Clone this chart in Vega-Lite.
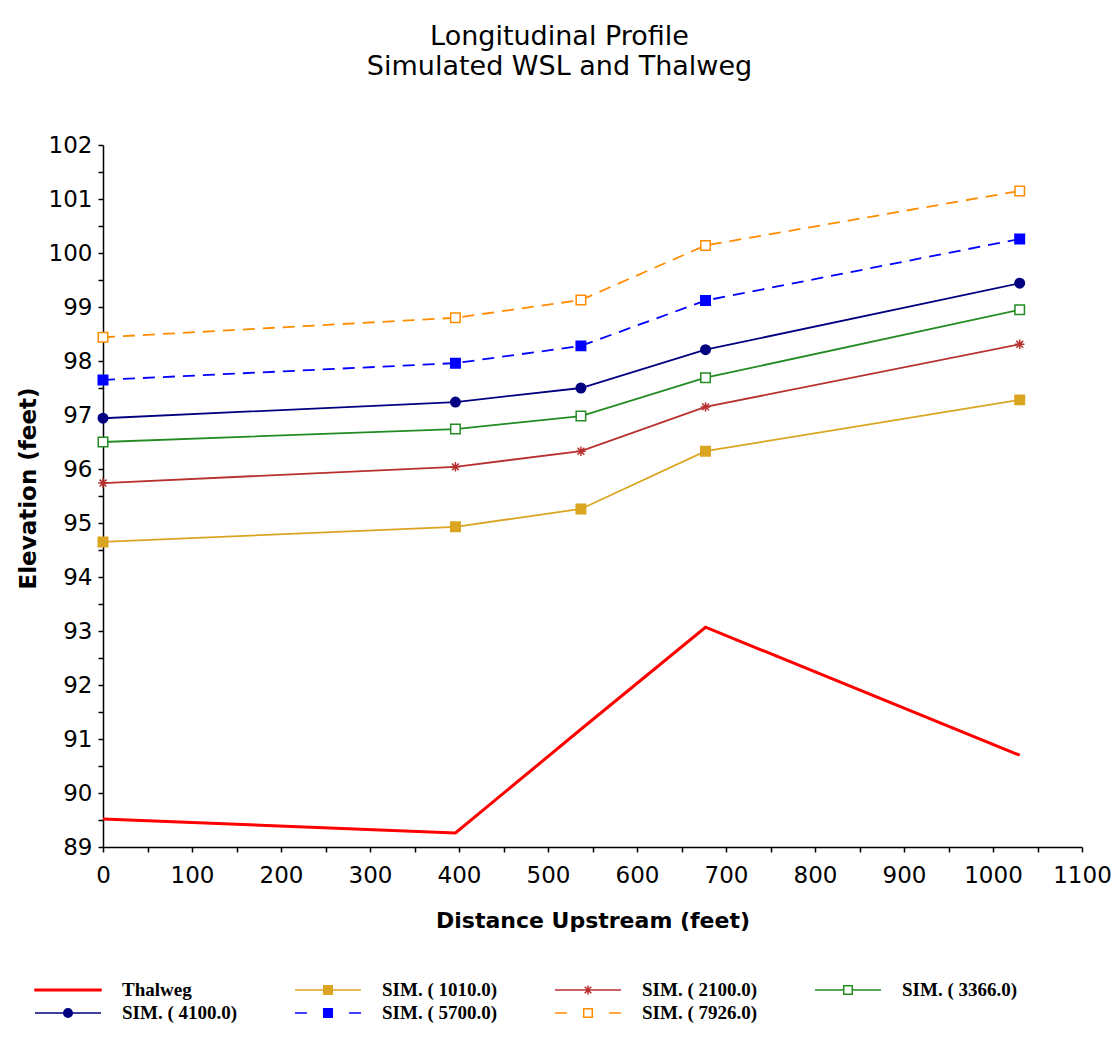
{
  "$schema": "https://vega.github.io/schema/vega-lite/v6.json",
  "autosize": "none",
  "width": 979,
  "height": 702,
  "padding": {"left": 103, "top": 145, "right": 31, "bottom": 208},
  "background": "white",
  "config": {"view": {"stroke": null}},
  "title": {
    "text": ["Longitudinal Profile", "Simulated WSL and Thalweg"],
    "font": "DejaVu Sans",
    "fontSize": 27,
    "fontWeight": "normal",
    "color": "black",
    "lineHeight": 30,
    "anchor": "middle",
    "offset": 53,
    "dx": -33
  },
  "data": {
    "values": [
      {"series": "Thalweg", "x": 0, "y": 89.52},
      {"series": "Thalweg", "x": 396, "y": 89.26},
      {"series": "Thalweg", "x": 537, "y": 91.18},
      {"series": "Thalweg", "x": 677, "y": 93.07},
      {"series": "Thalweg", "x": 1030, "y": 90.70},
      {"series": "SIM. ( 1010.0)", "x": 0, "y": 94.65},
      {"series": "SIM. ( 1010.0)", "x": 396, "y": 94.93},
      {"series": "SIM. ( 1010.0)", "x": 537, "y": 95.26},
      {"series": "SIM. ( 1010.0)", "x": 677, "y": 96.33},
      {"series": "SIM. ( 1010.0)", "x": 1030, "y": 97.28},
      {"series": "SIM. ( 2100.0)", "x": 0, "y": 95.74},
      {"series": "SIM. ( 2100.0)", "x": 396, "y": 96.04},
      {"series": "SIM. ( 2100.0)", "x": 537, "y": 96.33},
      {"series": "SIM. ( 2100.0)", "x": 677, "y": 97.15},
      {"series": "SIM. ( 2100.0)", "x": 1030, "y": 98.31},
      {"series": "SIM. ( 3366.0)", "x": 0, "y": 96.50},
      {"series": "SIM. ( 3366.0)", "x": 396, "y": 96.74},
      {"series": "SIM. ( 3366.0)", "x": 537, "y": 96.98},
      {"series": "SIM. ( 3366.0)", "x": 677, "y": 97.69},
      {"series": "SIM. ( 3366.0)", "x": 1030, "y": 98.95},
      {"series": "SIM. ( 4100.0)", "x": 0, "y": 96.94},
      {"series": "SIM. ( 4100.0)", "x": 396, "y": 97.24},
      {"series": "SIM. ( 4100.0)", "x": 537, "y": 97.50},
      {"series": "SIM. ( 4100.0)", "x": 677, "y": 98.21},
      {"series": "SIM. ( 4100.0)", "x": 1030, "y": 99.44},
      {"series": "SIM. ( 5700.0)", "x": 0, "y": 97.65},
      {"series": "SIM. ( 5700.0)", "x": 396, "y": 97.96},
      {"series": "SIM. ( 5700.0)", "x": 537, "y": 98.28},
      {"series": "SIM. ( 5700.0)", "x": 677, "y": 99.12},
      {"series": "SIM. ( 5700.0)", "x": 1030, "y": 100.26},
      {"series": "SIM. ( 7926.0)", "x": 0, "y": 98.44},
      {"series": "SIM. ( 7926.0)", "x": 396, "y": 98.80},
      {"series": "SIM. ( 7926.0)", "x": 537, "y": 99.13},
      {"series": "SIM. ( 7926.0)", "x": 677, "y": 100.14},
      {"series": "SIM. ( 7926.0)", "x": 1030, "y": 101.15}
    ]
  },
  "encoding": {
    "x": {
      "field": "x",
      "type": "quantitative",
      "scale": {"domain": [0, 1100], "nice": false, "zero": false},
      "axis": {
        "values": [0, 50, 100, 150, 200, 250, 300, 350, 400, 450, 500, 550, 600, 650, 700, 750, 800, 850, 900, 950, 1000, 1050, 1100],
        "labelExpr": "datum.value % 100 == 0 ? datum.value : ''",
        "grid": false,
        "domainColor": "black",
        "domainWidth": 1.5,
        "tickColor": "black",
        "tickWidth": 1.5,
        "tickSize": 5,
        "labelFont": "DejaVu Sans",
        "labelFontSize": 23,
        "labelColor": "black",
        "labelPadding": 12,
        "labelFlush": false,
        "labelOverlap": false,
        "title": "Distance Upstream (feet)",
        "titleFont": "DejaVu Sans",
        "titleFontSize": 22,
        "titleFontWeight": "bold",
        "titleColor": "black",
        "titleX": 489.5,
        "titleY": 80,
        "titleBaseline": "alphabetic",
        "titleAnchor": "middle",
        "titleAlign": "center"
      }
    },
    "y": {
      "field": "y",
      "type": "quantitative",
      "scale": {"domain": [89, 102], "nice": false, "zero": false},
      "axis": {
        "values": [89, 89.5, 90, 90.5, 91, 91.5, 92, 92.5, 93, 93.5, 94, 94.5, 95, 95.5, 96, 96.5, 97, 97.5, 98, 98.5, 99, 99.5, 100, 100.5, 101, 101.5, 102],
        "labelExpr": "datum.value % 1 == 0 ? datum.value : ''",
        "grid": false,
        "domainColor": "black",
        "domainWidth": 1.5,
        "tickColor": "black",
        "tickWidth": 1.5,
        "tickSize": 5,
        "labelFont": "DejaVu Sans",
        "labelFontSize": 23,
        "labelColor": "black",
        "labelPadding": 6,
        "labelFlush": false,
        "labelOverlap": false,
        "title": "Elevation (feet)",
        "titleFont": "DejaVu Sans",
        "titleFontSize": 23,
        "titleFontWeight": "bold",
        "titleColor": "black",
        "titleX": -68,
        "titleY": 343,
        "titleAngle": -90,
        "titleBaseline": "alphabetic",
        "titleAlign": "center"
      }
    }
  },
  "layer": [
    {
      "transform": [{"filter": "datum.series == 'Thalweg'"}],
      "mark": {"type": "line", "color": "#ff0000", "strokeWidth": 3, "strokeCap": "butt", "strokeJoin": "miter"}
    },
    {
      "transform": [{"filter": "datum.series == 'SIM. ( 5700.0)' || datum.series == 'SIM. ( 7926.0)'"}],
      "mark": {"type": "line", "strokeWidth": 1.8, "strokeDash": [12, 8], "strokeCap": "butt"},
      "encoding": {
        "stroke": {
          "field": "series",
          "type": "nominal",
          "scale": {
            "domain": ["SIM. ( 1010.0)", "SIM. ( 2100.0)", "SIM. ( 3366.0)", "SIM. ( 4100.0)", "SIM. ( 5700.0)", "SIM. ( 7926.0)"],
            "range": ["#daa520", "#b83030", "#228b22", "#000080", "#0000ff", "#ff8c00"]
          },
          "legend": null
        }
      }
    },
    {
      "transform": [{"filter": "datum.series != 'Thalweg' && datum.series != 'SIM. ( 5700.0)' && datum.series != 'SIM. ( 7926.0)'"}],
      "mark": {"type": "line", "strokeWidth": 1.8, "strokeCap": "butt", "strokeJoin": "miter"},
      "encoding": {
        "color": {
          "field": "series",
          "type": "nominal",
          "scale": {
            "domain": ["Thalweg", "SIM. ( 1010.0)", "SIM. ( 2100.0)", "SIM. ( 3366.0)", "SIM. ( 4100.0)", "SIM. ( 5700.0)", "SIM. ( 7926.0)"],
            "range": ["#ff0000", "#daa520", "#b83030", "#228b22", "#000080", "#0000ff", "#ff8c00"]
          },
          "legend": {
            "orient": "none",
            "legendX": -69,
            "legendY": 834,
            "direction": "horizontal",
            "columns": 4,
            "title": null,
            "padding": 0,
            "gridAlign": "all",
            "columnPadding": 56,
            "rowPadding": 1,
            "clipHeight": 22,
            "symbolSize": 4356,
            "symbolStrokeWidth": 1.5,
            "symbolOffset": 0,
            "labelOffset": 20,
            "labelFont": "Liberation Serif",
            "labelFontSize": 19,
            "labelFontWeight": "bold",
            "labelColor": "black",
            "labelLimit": 300,
            "encode": {
              "symbols": {
                "update": {
                  "shape": {"signal": "datum.value == 'Thalweg' ? 'M-1,-0.02H1V0.02H-1Z' : datum.value == 'SIM. ( 4100.0)' ? 'M-1,0H-0.13M0.13,0H1M0.13,0A0.13,0.13 0 1,1 -0.13,0A0.13,0.13 0 1,1 0.13,0Z' : datum.value == 'SIM. ( 2100.0)' ? 'M-1,0H1M0,-0.14V0.14M-0.1,-0.1L0.1,0.1M-0.1,0.1L0.1,-0.1' : (datum.value == 'SIM. ( 5700.0)' || datum.value == 'SIM. ( 7926.0)') ? 'M-1,0H-0.64M0.64,0H1M-0.13,-0.13H0.13V0.13H-0.13Z' : 'M-1,0H-0.13M0.13,0H1M-0.13,-0.13H0.13V0.13H-0.13Z'"},
                  "fill": {"signal": "datum.value == 'Thalweg' ? '#ff0000' : datum.value == 'SIM. ( 1010.0)' ? '#daa520' : datum.value == 'SIM. ( 2100.0)' ? '#b83030' : datum.value == 'SIM. ( 4100.0)' ? '#000080' : datum.value == 'SIM. ( 5700.0)' ? '#0000ff' : 'white'"},
                  "fillOpacity": {"value": 1},
                  "strokeWidth": {"value": 1.5}
                }
              }
            }
          }
        }
      }
    },
    {
      "transform": [{"filter": "datum.series != 'Thalweg'"}],
      "mark": {"type": "point", "size": 90, "strokeWidth": 1.5, "opacity": 1, "fillOpacity": 1},
      "encoding": {
        "shape": {
          "field": "series",
          "type": "nominal",
          "scale": {
            "domain": ["SIM. ( 1010.0)", "SIM. ( 2100.0)", "SIM. ( 3366.0)", "SIM. ( 4100.0)", "SIM. ( 5700.0)", "SIM. ( 7926.0)"],
            "range": ["square", "M-1,0H1M0,-1V1M-0.72,-0.72L0.72,0.72M-0.72,0.72L0.72,-0.72", "square", "circle", "square", "square"]
          },
          "legend": null
        },
        "stroke": {
          "field": "series",
          "type": "nominal",
          "scale": {
            "domain": ["SIM. ( 1010.0)", "SIM. ( 2100.0)", "SIM. ( 3366.0)", "SIM. ( 4100.0)", "SIM. ( 5700.0)", "SIM. ( 7926.0)"],
            "range": ["#daa520", "#b83030", "#228b22", "#000080", "#0000ff", "#ff8c00"]
          },
          "legend": null
        },
        "fill": {
          "field": "series",
          "type": "nominal",
          "scale": {
            "domain": ["SIM. ( 1010.0)", "SIM. ( 2100.0)", "SIM. ( 3366.0)", "SIM. ( 4100.0)", "SIM. ( 5700.0)", "SIM. ( 7926.0)"],
            "range": ["#daa520", "#b83030", "white", "#000080", "#0000ff", "white"]
          },
          "legend": null
        }
      }
    }
  ]
}
